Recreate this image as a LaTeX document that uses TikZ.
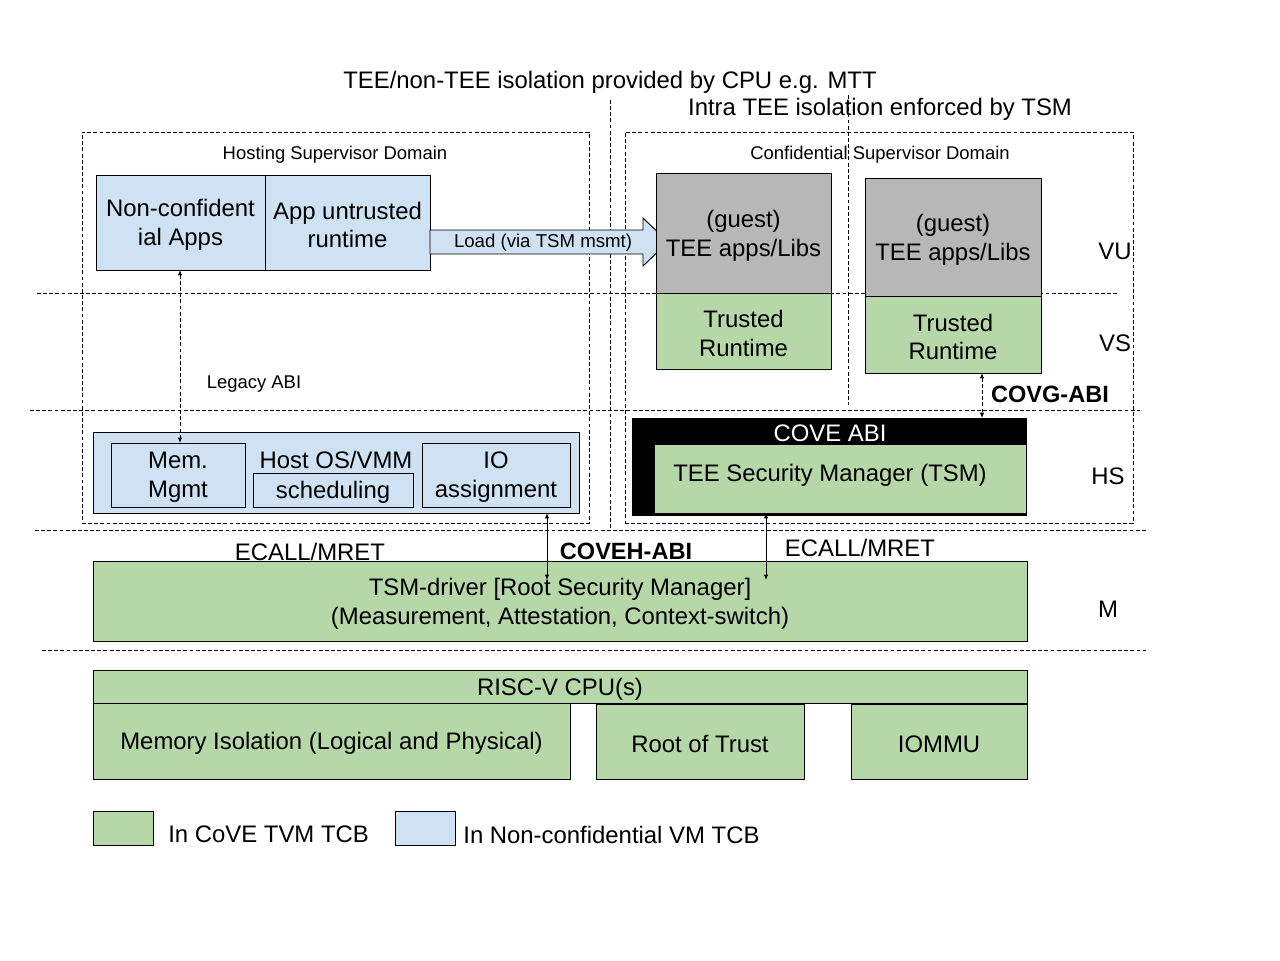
\documentclass[tikz,border=0pt]{standalone}
\usepackage{fontspec}
\setmainfont{Liberation Sans}
\usetikzlibrary{arrows.meta}
\definecolor{cgreen}{HTML}{B6D7A8}
\definecolor{cblue}{HTML}{CFE2F3}
\definecolor{cgray}{HTML}{B7B7B7}
\newcommand\bx[7]{\node[#1, minimum width={(#5-#3)*0.02cm}, minimum height={(#6-#4)*0.02cm}] (#2) at ({(#3+#5)/2},{(#4+#6)/2}) {};
  \node[#1, draw=none, fill=none] (#2-t) at ([yshift=-0.05cm]#2.center) {#7};}
\tikzset{
  base/.style={draw=black, line width=0.55pt, inner sep=0pt, outer sep=0pt, align=center, font=\fontsize{13.6pt}{16.4pt}\selectfont},
  gbox/.style={base, fill=cgreen},
  bbox/.style={base, fill=cblue},
  graybox/.style={base, fill=cgray},
  dom/.style={draw=black, line width=0.5pt, dash pattern=on 2.2pt off 1.3pt, inner sep=0pt, outer sep=0pt},
  sep/.style={draw=black, line width=0.5pt, dash pattern=on 2.2pt off 1.3pt},
  lbl/.style={inner sep=0pt, font=\fontsize{13.6pt}{16pt}\selectfont},
  small/.style={inner sep=0pt, font=\fontsize{10.5pt}{12pt}\selectfont},
  bold/.style={inner sep=0pt, font=\bfseries\fontsize{13.4pt}{16pt}\selectfont},
  tip/.style={line width=0.5pt, {Latex[length=3pt,width=2.4pt]}-{Latex[length=3pt,width=2.4pt]}},
}
\begin{document}
\begin{tikzpicture}[x=0.02cm, y=-0.02cm]
\useasboundingbox (0,0) rectangle (1280,960);
% separators
\draw[sep] (37,293) -- (1117,293);
\draw[sep] (30,410) -- (1140,410);
\draw[sep] (35,530) -- (1148,530);
\draw[sep] (42,650) -- (1146,650);
\draw[sep] (610,100) -- (610,528);
\draw[sep] (848,95) -- (848,405);
% domains
\node[dom, minimum width={507*0.02cm}, minimum height={391*0.02cm}] (hsd) at (335.5,327.5) {};
\node[dom, minimum width={508*0.02cm}, minimum height={391*0.02cm}] (csd) at (879,327.5) {};
\node[small] (hsdl) at (335,155) {Hosting Supervisor Domain};
\node[small] (csdl) at (880,155) {Confidential Supervisor Domain};
% titles
\node[lbl] (t1) at (610,82) {TEE/non-TEE isolation provided by CPU e.g. MTT};
\node[lbl] (t2) at (880,109) {Intra TEE isolation enforced by TSM};
% host apps
\bx{bbox}{napps}{96}{175}{265}{270}{Non-confident\\ial Apps}
\bx{bbox}{urt}{265}{175}{430}{270}{App untrusted\\runtime}
% load arrow
\draw[base, fill=cblue] (430,230) -- (643,230) -- (643,218) -- (668,242) -- (643,266) -- (643,254) -- (430,254) -- cycle;
\node[small, font=\fontsize{10.6pt}{12pt}\selectfont] (load) at (543,243) {Load (via TSM msmt)};
% guest boxes
\bx{graybox}{g1}{656}{173}{831}{293}{(guest)\\TEE apps/Libs}
\bx{gbox}{tr1}{656}{293}{831}{369}{Trusted\\Runtime}
\bx{graybox}{g2}{865}{178}{1041}{296}{(guest)\\TEE apps/Libs}
\bx{gbox}{tr2}{865}{296}{1041}{373}{Trusted\\Runtime}
% level labels
\node[lbl] (vu) at (1115,251) {VU};
\node[lbl] (vs) at (1115,343) {VS};
\node[lbl] (hs) at (1108,476) {HS};
\node[lbl] (m) at (1108,609) {M};
% host OS
\bx{bbox}{hos}{93}{432}{579}{513}{}
\bx{bbox}{mem}{111}{443}{245}{507}{Mem.\\Mgmt}
\node[lbl] (hostos) at (336,460) {Host OS/VMM};
\bx{bbox}{sched}{253}{473}{413}{507}{scheduling}
\bx{bbox}{io}{422}{443}{570}{507}{IO\\assignment}
% COVE ABI / TSM
\node[draw=black, fill=black, line width=0.55pt, inner sep=0pt, outer sep=0pt, minimum width={394*0.02cm}, minimum height={97*0.02cm}] (cove) at (829,466.5) {};
\node[lbl, text=white] (coveabi) at (830,433) {COVE ABI};
\bx{gbox}{tsm}{654}{444}{1026}{513}{}
\node[lbl] (tsmt) at (830,475) {TEE Security Manager (TSM)};
% TSM driver
\bx{gbox}{drv}{93}{561}{1027}{641}{TSM-driver [Root Security Manager]\\(Measurement, Attestation, Context-switch)}
% CPU
\bx{gbox}{cpu}{93}{670}{1027}{703}{RISC-V CPU(s)}
\bx{gbox}{memiso}{93}{703}{570}{779}{Memory Isolation (Logical and Physical)}
\bx{gbox}{rot}{596}{704}{804}{779}{Root of Trust}
\bx{gbox}{iommu}{851}{704}{1027}{779}{IOMMU}
% legend
\bx{gbox}{lg}{93}{811}{153}{845}{}
\node[lbl, anchor=west] (lgt) at (168,834) {In CoVE TVM TCB};
\bx{bbox}{lb}{395}{811}{455}{845}{}
\node[lbl, anchor=west] (lbt) at (463,835) {In Non-confidential VM TCB};
% ABI labels
\node[small] (legacy) at (254,384) {Legacy ABI};
\node[bold] (covg) at (1050,394) {COVG-ABI};
\node[lbl] (ec1) at (310,552) {ECALL/MRET};
\node[bold] (coveh) at (626,551) {COVEH-ABI};
\node[lbl] (ec2) at (860,548) {ECALL/MRET};
% connectors
\coordinate (a1) at (180,270);
\coordinate (a2) at (180,443);
\coordinate (c1) at (982,373);
\coordinate (c2) at (982,418);
\coordinate (h1) at (547,513);
\coordinate (h2) at (547,580);
\coordinate (s1) at (766,513);
\coordinate (s2) at (766,580);
\draw[tip, dash pattern=on 2.2pt off 1.3pt] (a1) -- (a2);
\draw[tip, dash pattern=on 2.2pt off 1.3pt] (c1) -- (c2);
\draw[tip] (h1) -- (h2);
\draw[tip] (s1) -- (s2);
\end{tikzpicture}
\end{document}
